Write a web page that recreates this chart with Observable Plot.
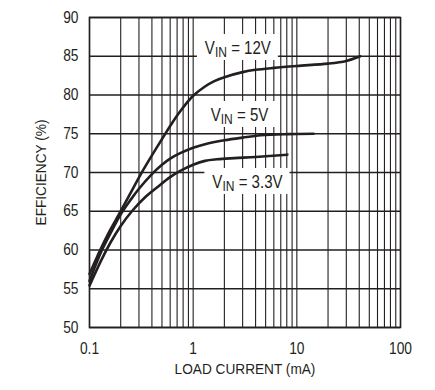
<!DOCTYPE html>
<html><head><meta charset="utf-8">
<script src="https://cdn.jsdelivr.net/npm/d3@7"></script>
<script src="https://cdn.jsdelivr.net/npm/@observablehq/plot@0.6"></script>
<style>body{margin:0;background:#fff;}</style>
</head><body><div id="chart"></div>
<script>
// ---- data ----
const current12 = [0.1, 0.12, 0.15, 0.2, 0.25, 0.31, 0.4, 0.5, 0.6, 0.75, 1.0, 1.3, 1.6, 2, 3, 4, 6, 10, 20, 30, 41];
const eff12     = [56.9, 59.3, 62.0, 65.0, 67.4, 69.7, 72.2, 74.3, 76.0, 77.9, 79.9, 81.1, 81.8, 82.3, 82.95, 83.25, 83.5, 83.75, 84.05, 84.4, 85.0];
const current5  = [0.1, 0.13, 0.16, 0.2, 0.25, 0.3, 0.4, 0.5, 0.6, 0.75, 1.0, 1.3, 2, 3, 4.5, 8, 14.5];
const eff5      = [56.0, 59.8, 62.2, 64.6, 66.5, 67.9, 69.8, 71.0, 71.8, 72.5, 73.2, 73.65, 74.15, 74.5, 74.8, 74.95, 75.0];
const current33 = [0.1, 0.13, 0.16, 0.2, 0.26, 0.35, 0.45, 0.6, 0.75, 1.0, 1.3, 1.7, 2.5, 4, 8.1];
const eff33     = [55.4, 58.7, 61.0, 63.1, 65.1, 66.9, 68.1, 69.4, 70.2, 71.0, 71.5, 71.7, 71.85, 72.0, 72.3];

const seriesNames = ["12V", "5V", "3.3V"];
const labelText = ["VIN = 12V", "VIN = 5V", "VIN = 3.3V"];
const labelX = [2.7, 2.8, 3.34];
const labelY = [85.35, 76.7, 68.06];

const xTicks = [0.1, 1, 10, 100];
const xTickLabels = ["0.1", "1", "10", "100"];
const yTicks = [50, 55, 60, 65, 70, 75, 80, 85, 90];
const xGrid = [0.1, 0.2, 0.3, 0.4, 0.5, 0.6, 0.7, 0.8, 0.9,
               1, 2, 3, 4, 5, 6, 7, 8, 9,
               10, 20, 30, 40, 50, 60, 70, 80, 90, 100];
const xTitle = "LOAD CURRENT (mA)";
const yTitle = "EFFICIENCY (%)";

// ---- layout constants ----
const W = 435, H = 390, ML = 89, MR = 35, MT = 17, MB = 63;
const FONT = '"Liberation Sans", Arial, sans-serif';
const INK = "#231f20";
const LABEL_SIZE = 17.5;
const COND = 0.86;
const svgNS = "http://www.w3.org/2000/svg";

// ---- build tables ----
const rows = [];
[[current12, eff12], [current5, eff5], [current33, eff33]].forEach(([xs, ys], k) => {
  xs.forEach((x, i) => rows.push({series: seriesNames[k], x, y: ys[i]}));
});
const labels = labelText.map((t, i) => ({t, x: labelX[i], y: labelY[i]}));

// label parts: V, subscript IN, rest
const partsOf = s => [
  {s: s.slice(0, 1), size: LABEL_SIZE, dy: 0},
  {s: s.slice(1, 3), size: LABEL_SIZE * 0.8, dy: 3},
  {s: s.slice(3), size: LABEL_SIZE, dy: 0}
];
const ctx = document.createElement("canvas").getContext("2d");
function measure(str, size) {
  ctx.font = `${size}px ${FONT}`;
  let w = ctx.measureText(str).width;
  if (!(w > 0)) w = str.length * size * 0.55;
  return w * COND;
}

// label boxes in data space (the reference interrupts the grid behind each label)
const PW = W - ML - MR, PH = H - MB - MT;
const toPx = x => ML + (Math.log10(x) + 1) / 3 * PW;
const fromPx = px => Math.pow(10, (px - ML) / PW * 3 - 1);
const toPy = y => H - MB - (y - 50) / 40 * PH;
const fromPy = py => 50 + (H - MB - py) / PH * 40;
const boxes = labels.map(d => {
  const total = partsOf(d.t).reduce((a, p) => a + measure(p.s, p.size), 0);
  const cx = toPx(d.x), by = toPy(d.y);
  return {x0: fromPx(cx - total / 2 - 7.5), x1: fromPx(cx + total / 2 + 7.5),
          y0: fromPy(by + 7), y1: fromPy(by - 19)};
});
function cut(list, lo, hi) {
  return list.flatMap(([a, b]) => {
    const out = [];
    if (lo > a) out.push([a, Math.min(b, lo)]);
    if (hi < b) out.push([Math.max(a, hi), b]);
    return out;
  });
}
const vSegs = [];
xGrid.forEach(x => {
  let segs = [[50, 90]];
  boxes.forEach(b => { if (x > b.x0 && x < b.x1) segs = cut(segs, b.y0, b.y1); });
  segs.forEach(([y1, y2]) => vSegs.push({x, y1, y2}));
});
const hSegs = [];
yTicks.forEach(y => {
  let segs = [[0.1, 100]];
  boxes.forEach(b => { if (y > b.y0 && y < b.y1) segs = cut(segs, b.x0, b.x1); });
  segs.forEach(([x1, x2]) => hSegs.push({y, x1, x2}));
});

const chart = Plot.plot({
  width: W, height: H,
  marginLeft: ML, marginRight: MR, marginTop: MT, marginBottom: MB,
  style: {fontFamily: FONT, fontSize: "16px", color: INK, background: "white"},
  x: {type: "log", domain: [0.1, 100], ticks: xTicks, tickFormat: d => xTickLabels[xTicks.indexOf(d)],
      tickSize: 0, tickPadding: 15, label: null},
  y: {domain: [50, 90], ticks: yTicks, tickSize: 0, tickPadding: 11, label: null},
  marks: [
    Plot.ruleX(vSegs, {x: "x", y1: "y1", y2: "y2", stroke: INK, strokeWidth: 1.1}),
    Plot.ruleY(hSegs, {y: "y", x1: "x1", x2: "x2", stroke: INK, strokeWidth: 1.6}),
    Plot.frame({stroke: INK, strokeWidth: 1.6}),
    Plot.text(labels, {x: "x", y: "y", text: "t", fontSize: LABEL_SIZE, lineAnchor: "bottom", textAnchor: "middle", fill: INK}),
    Plot.line(rows, {x: "x", y: "y", z: "series", stroke: INK, strokeWidth: 2.6, curve: "catmull-rom"}),
    Plot.text([xTitle], {frameAnchor: "bottom", dy: 46, lineAnchor: "bottom", textAnchor: "middle", fontSize: 15, fill: INK}),
    Plot.text([yTitle], {frameAnchor: "left", dx: -48, rotate: -90, lineAnchor: "middle", textAnchor: "middle", fontSize: 15, fill: INK})
  ]
});
document.getElementById("chart").append(chart);

const labelEls = [];
d3.select(chart).selectAll("text").each(function () {
  if (this.textContent.startsWith("VIN")) labelEls.push(this);
});

// condense the other texts (reference uses a condensed sans)
d3.select(chart).selectAll("text").each(function () {
  if (labelEls.includes(this)) return;
  const isTitle = this.textContent === xTitle || this.textContent === yTitle;
  const f = isTitle ? 0.91 : COND;
  const len = this.getComputedTextLength();
  this.setAttribute("textLength", len * f);
  this.setAttribute("lengthAdjust", "spacingAndGlyphs");
});

// rebuild each curve label as V + subscript IN + rest
labelEls.forEach(el => {
  const g = el.parentNode;
  const tr = el.getAttribute("transform");
  const parts = partsOf(el.textContent);
  const nodes = parts.map(p => {
    const t = document.createElementNS(svgNS, "text");
    if (tr) t.setAttribute("transform", tr);
    t.setAttribute("font-size", p.size);
    t.setAttribute("text-anchor", "start");
    t.setAttribute("y", p.dy);
    t.style.whiteSpace = "pre";
    t.textContent = p.s;
    g.insertBefore(t, el);
    return t;
  });
  const widths = nodes.map(t => t.getComputedTextLength() * COND);
  const total = widths.reduce((a, b) => a + b, 0);
  let x0 = -total / 2;
  nodes.forEach((t, i) => {
    t.setAttribute("x", x0);
    t.setAttribute("textLength", widths[i]);
    t.setAttribute("lengthAdjust", "spacingAndGlyphs");
    x0 += widths[i];
  });
  el.remove();
});
</script>
</body></html>
